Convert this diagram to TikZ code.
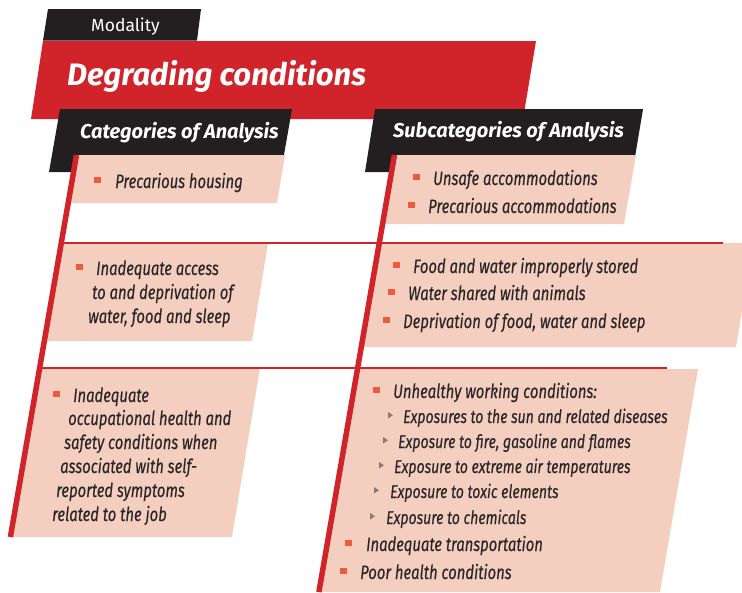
\documentclass[tikz,border=0pt]{standalone}
\usepackage{fontspec}
\setmainfont{Fira Sans}
\newfontfamily\itemfont[FakeStretch=0.76,FakeBold=0.3]{Fira Sans}
\newfontfamily\headfont{Fira Sans}
\usetikzlibrary{calc}

\definecolor{bannerred}{HTML}{D0232A}
\definecolor{barblack}{HTML}{231F20}
\definecolor{boxpink}{HTML}{F4CFBF}
\definecolor{bulletred}{HTML}{EF5A3C}
\definecolor{arrowgrey}{HTML}{8A7A74}
\definecolor{textdark}{HTML}{2A2627}

\tikzset{
	itemtext/.style={anchor=base west, inner sep=0pt, text=textdark, font=\itemfont\itshape\fontsize{19.5}{24}\selectfont},
	subtext/.style={itemtext, font=\itemfont\itshape\fontsize{18.5}{24}\selectfont},
	headtext/.style={anchor=base west, inner sep=0pt, text=white, font=\headfont\bfseries\itshape\fontsize{20}{24}\selectfont},
	redrule/.style={bannerred, line width=1.4pt},
	redspine/.style={bannerred, line width=5.5pt},
}

% square bullet and small triangle, given left edge and text baseline
\def\sqbullet(#1,#2){\fill[bulletred] (#1,#2-11.5) rectangle (#1+6.5,#2-5);}
\def\tribullet(#1,#2){\fill[arrowgrey] (#1,#2-11) -- (#1+5,#2-7.75) -- (#1,#2-4.5) -- cycle;}

\begin{document}
\begin{tikzpicture}[x=1pt,y=-1pt]
			%%%%% START %%%%%
			\useasboundingbox (0,0) rectangle (742,592);
			
			% title bars
			\fill[barblack] (48,9) -- (201,9) -- (197,40.5) -- (43,40.5) -- cycle;
			\fill[bannerred] (43,41) -- (536,41) -- (523,119) -- (31,119) -- cycle;
			\fill[barblack] (60,109) -- (292,109) -- (281,172) -- (49,172) -- cycle;
			\fill[barblack] (375,109) -- (643,109) -- (632.5,172) -- (365,172) -- cycle;
			
			\node[anchor=base west, inner sep=0pt, text=white, font=\headfont\fontsize{17.5}{20}\selectfont] (modality) at (91,31) {Modality};
			\node[anchor=base west, inner sep=0pt, text=white, font=\headfont\bfseries\itshape\fontsize{31}{34}\selectfont] (title) at (67,85) {Degrading conditions};
			\node[headtext] (cathead) at (80,138) {Categories of Analysis};
			\node[headtext] (subhead) at (393,137) {Subcategories of Analysis};
			
			% pink boxes, left column
			\fill[boxpink] (76.5,155) -- (285,155) -- (277,203) -- (68.2,203) -- cycle;
			\fill[boxpink] (61.3,243) -- (268,243) -- (252,341) -- (44.3,341) -- cycle;
			\fill[boxpink] (39.6,368) -- (260,368) -- (232,537) -- (10.4,537) -- cycle;
			
			% pink boxes, right column
			\fill[boxpink] (394.5,155) -- (636,155) -- (624,224) -- (382.6,224) -- cycle;
			\fill[boxpink] (379.3,243) -- (753,243) -- (736,347) -- (361.3,347) -- cycle;
			\fill[boxpink] (357.5,369) -- (698,369) -- (660,592) -- (318.9,592) -- cycle;
			
			% separators and spines
			\draw[redrule] (61.3,243) -- (723,243);
			\draw[redrule] (39.6,368) -- (667,368);
			\draw[redspine] (76.5,155) -- (10.4,537);
			\draw[redspine] (394.5,155) -- (318.9,592);
			
			% left column items
			\sqbullet(94,188)
			\node[itemtext] (housing) at (115,188) {Precarious housing};
			
			\sqbullet(76,275)
			\node[itemtext] (accessa) at (96,275) {Inadequate access};
			\node[itemtext] (accessb) at (92,299) {to and deprivation of};
			\node[itemtext] (accessc) at (88,323) {water, food and sleep};
			
			\sqbullet(53,402)
			\node[itemtext] (safetya) at (73,402) {Inadequate};
			\node[itemtext] (safetyb) at (68,425) {occupational health and};
			\node[itemtext] (safetyc) at (64,449) {safety conditions when};
			\node[itemtext] (safetyd) at (60,473) {associated with self-};
			\node[itemtext] (safetye) at (56,497) {reported symptoms};
			\node[itemtext] (safetyf) at (52,521) {related to the job};
			
			% right column items
			\sqbullet(413,185)
			\node[itemtext] (unsafe) at (433,185) {Unsafe accommodations};
			\sqbullet(408,213)
			\node[itemtext] (precacc) at (428,213) {Precarious accommodations};
			
			\sqbullet(393,273)
			\node[itemtext] (stored) at (413,273) {Food and water improperly stored};
			\sqbullet(388,300)
			\node[itemtext] (animals) at (408,300) {Water shared with animals};
			\sqbullet(383,328)
			\node[itemtext] (depriv) at (403,328) {Deprivation of food, water and sleep};
			
			\sqbullet(373,398)
			\node[itemtext] (working) at (393,398) {Unhealthy working conditions:};
			\tribullet(388,423)
			\node[subtext] (sun) at (403,423) {Exposures to the sun and related diseases};
			\tribullet(383,448)
			\node[subtext] (fire) at (398,448) {Exposure to fire, gasoline and flames};
			\tribullet(379,473)
			\node[subtext] (airtemp) at (394,473) {Exposure to extreme air temperatures};
			\tribullet(374,498)
			\node[subtext] (toxic) at (390,498) {Exposure to toxic elements};
			\tribullet(370,524)
			\node[subtext] (chem) at (386,524) {Exposure to chemicals};
			\sqbullet(345,551)
			\node[itemtext] (transport) at (366,551) {Inadequate transportation};
			\sqbullet(340,579)
			\node[itemtext] (health) at (360,579) {Poor health conditions};
			
			%%%%% END %%%%%
\end{tikzpicture}
\end{document}
